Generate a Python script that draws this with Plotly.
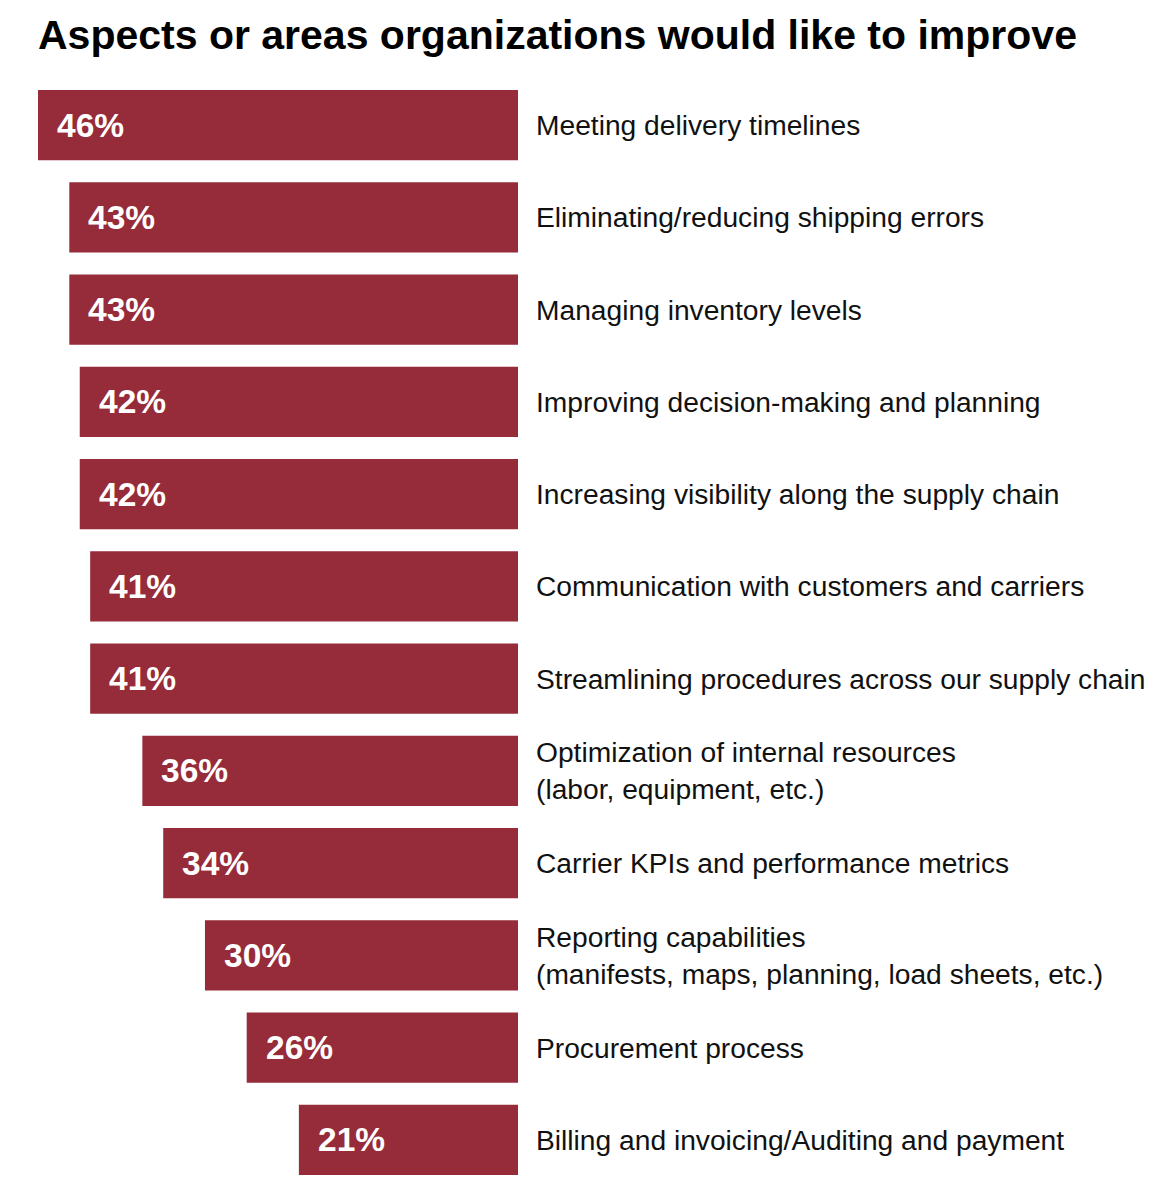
import plotly.graph_objects as go

# data, top to bottom
categories = [
    "Meeting delivery timelines",
    "Eliminating/reducing shipping errors",
    "Managing inventory levels",
    "Improving decision-making and planning",
    "Increasing visibility along the supply chain",
    "Communication with customers and carriers",
    "Streamlining procedures across our supply chain",
    "Optimization of internal resources<br>(labor, equipment, etc.)",
    "Carrier KPIs and performance metrics",
    "Reporting capabilities<br>(manifests, maps, planning, load sheets, etc.)",
    "Procurement process",
    "Billing and invoicing/Auditing and payment",
]
values = [46, 43, 43, 42, 42, 41, 41, 36, 34, 30, 26, 21]

bar_color = "#962B3A"
font = "Liberation Sans, Arial, Helvetica, sans-serif"

fig = go.Figure()
fig.add_trace(go.Bar(
    x=values,
    y=categories,
    orientation="h",
    marker=dict(color=bar_color, line=dict(width=0)),
    hoverinfo="skip",
))

# value labels inside bars (left end) and category labels to the right
for cat, val in zip(categories, values):
    fig.add_annotation(x=val, y=cat, xref="x", yref="y", text=f"<b>{val}%</b>",
                       showarrow=False, xanchor="left", xshift=17,
                       font=dict(family=font, size=33.5, color="white"))
    fig.add_annotation(x=0, y=cat, xref="x", yref="y", text=cat,
                       showarrow=False, xanchor="left", xshift=16, align="left",
                       font=dict(family=font, size=28.2, color="#111111"))

# page body adds 8px, so size and margins are trimmed by that
fig.update_layout(
    width=1151, height=1192,
    margin=dict(l=30, r=641, t=71, b=14),
    plot_bgcolor="white", paper_bgcolor="white",
    showlegend=False,
    bargap=0.24,
    title=dict(text="<b>Aspects or areas organizations would like to improve</b>",
               x=0, xref="paper", xanchor="left",
               y=1 - 27 / 1192, yref="container", yanchor="middle",
               font=dict(family=font, size=41, color="black")),
    xaxis=dict(range=[46, 0], visible=False, fixedrange=True),
    yaxis=dict(autorange="reversed", visible=False, fixedrange=True),
)

fig.write_html("out.html")
